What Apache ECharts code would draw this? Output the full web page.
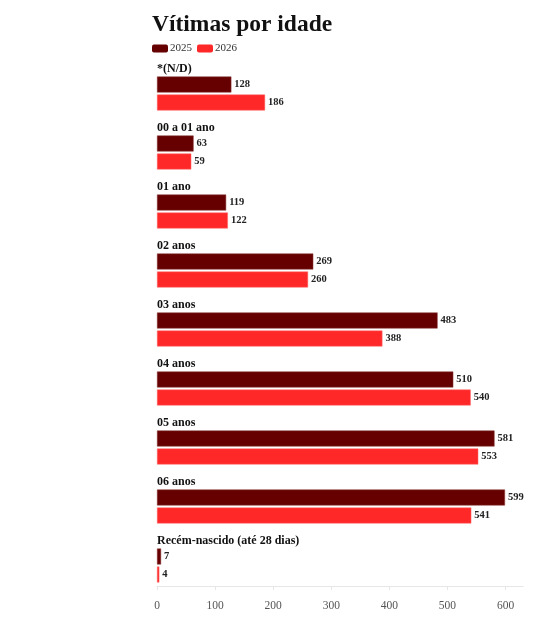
<!DOCTYPE html>
<html>
<head>
<meta charset="utf-8">
<script src="https://cdn.jsdelivr.net/npm/echarts@6/dist/echarts.min.js"></script>
<style>
  html, body { margin: 0; padding: 0; background: #fff; }
  #chart0 { width: 551px; height: 619px; }
</style>
</head>
<body>
<div id="chart0"></div>
<script>
var categorias = ['*(N/D)', '00 a 01 ano', '01 ano', '02 anos', '03 anos', '04 anos', '05 anos', '06 anos', 'Recém-nascido (até 28 dias)']
var valores2025 = [128, 63, 119, 269, 483, 510, 581, 599, 7]
var valores2026 = [186, 59, 122, 260, 388, 540, 553, 541, 4]
var ticksX = [0, 100, 200, 300, 400, 500, 600]

;(function () {
  var fonte = '"Liberation Serif", serif'
  var chart0 = echarts.init(document.getElementById('chart0'))
  var rotuloValor = { show: true, position: 'right', distance: 3, fontFamily: fonte, fontSize: 10.5, fontWeight: 'bold', color: '#222' }
  var option0 = {
    animation: false,
    textStyle: { fontFamily: fonte },
    title: {
      text: 'Vítimas por idade',
      left: 152,
      top: 13,
      padding: 0,
      textStyle: { fontFamily: fonte, fontSize: 23.5, fontWeight: 'bold', color: '#111' }
    },
    legend: {
      left: 152,
      top: 43,
      padding: 0,
      itemWidth: 16,
      itemHeight: 8,
      itemGap: 5,
      icon: 'roundRect',
      itemStyle: { borderWidth: 0 },
      textStyle: { fontFamily: fonte, fontSize: 11, color: '#333', padding: [0, 0, 0, -3] },
      data: ['2025', '2026']
    },
    grid: { left: 157, right: 28, top: 55, bottom: 33 },
    xAxis: {
      type: 'value',
      min: 0,
      max: 630,
      interval: 100,
      splitLine: { show: false },
      axisLine: { show: true, lineStyle: { color: '#e6e6e6' } },
      axisTick: { show: true, length: 4, lineStyle: { color: '#e6e6e6' } },
      axisLabel: {
        showMaxLabel: false,
        margin: 14,
        fontFamily: fonte,
        fontSize: 11.5,
        color: '#555',
        formatter: function (v) { return ticksX.indexOf(v) >= 0 ? String(v) : '' }
      }
    },
    yAxis: {
      type: 'category',
      inverse: true,
      data: categorias,
      axisLine: { show: false },
      axisTick: { show: false },
      axisLabel: { show: false }
    },
    series: [{
      name: 'rótulo',
      type: 'bar',
      data: categorias.map(function () { return 0 }),
      barWidth: 16,
      barGap: '12.5%',
      silent: true,
      itemStyle: { color: 'rgba(0,0,0,0)' },
      label: {
        show: true,
        position: 'right',
        distance: 0,
        offset: [0, 2],
        formatter: '{b}',
        fontFamily: fonte,
        fontSize: 12,
        fontWeight: 'bold',
        color: '#111'
      }
    }, {
      name: '2025',
      type: 'bar',
      data: valores2025,
      barWidth: 16,
      barGap: '12.5%',
      itemStyle: { color: '#660000', borderColor: '#8a3a3a', borderWidth: 0.5 },
      label: rotuloValor
    }, {
      name: '2026',
      type: 'bar',
      data: valores2026,
      barWidth: 16,
      barGap: '12.5%',
      itemStyle: { color: '#ff2828', borderColor: '#ff6a6a', borderWidth: 0.5 },
      label: rotuloValor
    }]
  }
  chart0.setOption(option0)
})()
</script>
</body>
</html>
